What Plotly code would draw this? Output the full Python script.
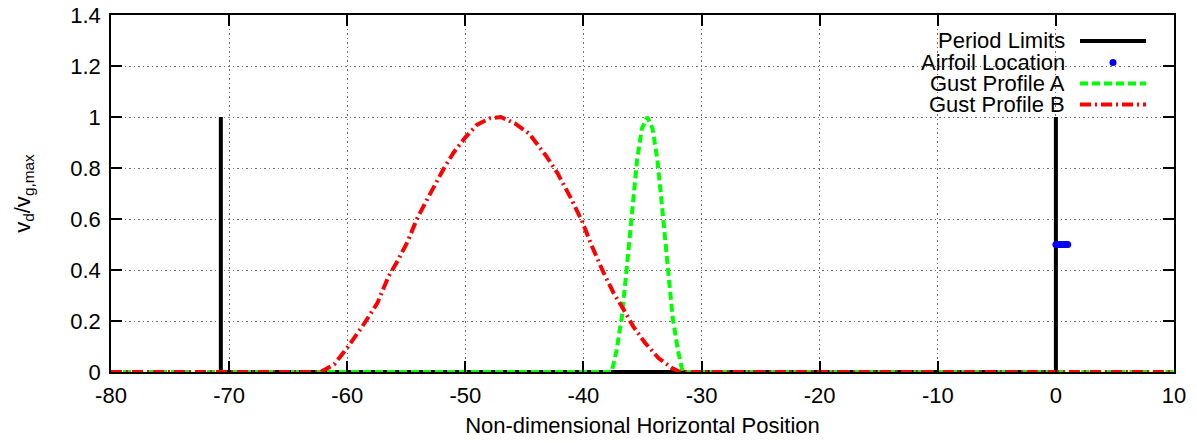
import plotly.graph_objects as go

# Period limits: vertical markers at both ends of one period, joined along y = 0
period_x = [-70.7, -70.7, 0.0, 0.0]
period_y = [1.0, 0.0, 0.0, 1.0]

# Airfoil chord points (x/c from leading to trailing edge) at mid height
airfoil_x = [0.0, 0.1, 0.2, 0.3, 0.4, 0.5, 0.6, 0.7, 0.8, 0.9, 1.0]
airfoil_y = [0.5, 0.5, 0.5, 0.5, 0.5, 0.5, 0.5, 0.5, 0.5, 0.5, 0.5]

# Gust profile A (short gust)
gust_a_x = [-80.0, -37.6, -37.2, -36.75, -36.35, -36.05, -35.75, -35.45, -35.05, -34.6,
            -34.15, -33.75, -33.45, -33.15, -32.85, -32.45, -32.0, -31.6, 10.0]
gust_a_y = [0.0, 0.0, 0.085, 0.215, 0.40, 0.55, 0.70, 0.835, 0.955, 1.0,
            0.955, 0.835, 0.70, 0.55, 0.40, 0.215, 0.085, 0.0, 0.0]

# Gust profile B (long gust)
gust_b_x = [-80.0, -62.25, -61.1, -60.0, -58.7, -57.45, -56.5, -55.8, -54.9, -54.1,
            -53.2, -52.4, -51.8, -51.0, -50.0, -49.0, -47.9, -47.0, -45.8, -44.6,
            -43.2, -42.2, -41.1, -40.1, -39.3, -38.3, -37.45, -36.6, -35.8, -34.8,
            -33.65, -32.5, -31.8, 10.0]
gust_b_y = [0.0, 0.0, 0.03, 0.095, 0.18, 0.27, 0.375, 0.43, 0.51, 0.60,
            0.68, 0.75, 0.80, 0.86, 0.92, 0.97, 0.995, 1.0, 0.975, 0.935,
            0.85, 0.78, 0.685, 0.59, 0.495, 0.39, 0.31, 0.245, 0.18, 0.115,
            0.055, 0.015, 0.0, 0.0]

x_ticks = [-80, -70, -60, -50, -40, -30, -20, -10, 0, 10]
x_tick_labels = ["-80", "-70", "-60", "-50", "-40", "-30", "-20", "-10", "0", "10"]
y_ticks = [0, 0.2, 0.4, 0.6, 0.8, 1.0, 1.2, 1.4]
y_tick_labels = ["0", "0.2", "0.4", "0.6", "0.8", "1", "1.2", "1.4"]

FONT = "Liberation Sans, Arial, sans-serif"
FS = 22
W, H = 1197, 443
ML, MR, MT, MB = 111, 23, 15, 71
PW, PH = W - ML - MR, H - MT - MB

GREEN_DASH = "8px,4px"
RED_DASHDOT = "11px,4px,2px,4px"


def px_x(p):
    return (p - ML) / PW


def px_y(p):
    return (H - MB - p) / PH


fig = go.Figure()
fig.add_trace(go.Scatter(x=period_x, y=period_y, mode="lines",
                         line=dict(color="black", width=4), showlegend=False))
fig.add_trace(go.Scatter(x=airfoil_x, y=airfoil_y, mode="markers",
                         marker=dict(color="#0000ff", size=7), showlegend=False))
fig.add_trace(go.Scatter(x=gust_a_x, y=gust_a_y, mode="lines",
                         line=dict(color="#00ff00", width=4, dash=GREEN_DASH),
                         showlegend=False))
fig.add_trace(go.Scatter(x=gust_b_x, y=gust_b_y, mode="lines",
                         line=dict(color="#ff0000", width=4, dash=RED_DASHDOT),
                         showlegend=False))

# Key box (opaque, hides grid lines behind it)
shapes = [dict(type="rect", xref="paper", yref="paper", layer="between",
               x0=px_x(855), x1=px_x(1172), y0=px_y(116), y1=px_y(17),
               fillcolor="white", line=dict(width=0))]
annotations = []
key_rows = [
    ("Period Limits", 41, dict(kind="line", color="black", dash="solid")),
    ("Airfoil Location", 62.5, dict(kind="dot", color="#0000ff")),
    ("Gust Profile A", 83.5, dict(kind="line", color="#00ff00", dash=GREEN_DASH)),
    ("Gust Profile B", 104.5, dict(kind="line", color="#ff0000", dash=RED_DASHDOT)),
]
for label, row_y, sample in key_rows:
    annotations.append(dict(text=label, xref="paper", yref="paper",
                            x=px_x(1066), y=px_y(row_y), xanchor="right",
                            yanchor="middle", showarrow=False, height=21, borderpad=0,
                            font=dict(family=FONT, size=FS, color="black")))
    if sample["kind"] == "line":
        shapes.append(dict(type="line", xref="paper", yref="paper", layer="above",
                           x0=px_x(1080), x1=px_x(1146), y0=px_y(row_y), y1=px_y(row_y),
                           line=dict(color=sample["color"], width=4, dash=sample["dash"])))
    else:
        shapes.append(dict(type="circle", xref="paper", yref="paper", layer="above",
                           xsizemode="pixel", ysizemode="pixel",
                           xanchor=px_x(1113), yanchor=px_y(row_y),
                           x0=-3.5, x1=3.5, y0=-3.5, y1=3.5,
                           fillcolor=sample["color"], line=dict(width=0)))

axis_common = dict(showline=True, linecolor="black", linewidth=1.5, mirror="allticks",
                   ticks="inside", ticklen=11, tickwidth=1.5, tickcolor="black",
                   showgrid=True, gridcolor="#707070", gridwidth=1, griddash="1.5px,3px",
                   zeroline=False, tickfont=dict(family=FONT, size=FS, color="black"))

fig.update_xaxes(range=[-80, 10], tickvals=x_ticks, ticktext=x_tick_labels,
                 ticklabelstandoff=3,
                 title=dict(text="Non-dimensional Horizontal Position", standoff=10,
                            font=dict(family=FONT, size=FS, color="black")),
                 **axis_common)
fig.update_yaxes(range=[0, 1.4], tickvals=y_ticks, ticktext=y_tick_labels,
                 ticklabelstandoff=4,
                 title=dict(text="v<sub>d</sub>/v<sub>g,max</sub>", standoff=34,
                            font=dict(family=FONT, size=FS, color="black")),
                 **axis_common)

fig.update_layout(width=W, height=H, margin=dict(l=ML, r=MR, t=MT, b=MB, autoexpand=False),
                  paper_bgcolor="white", plot_bgcolor="white",
                  shapes=shapes, annotations=annotations, showlegend=False)

fig.write_html("out.html")
